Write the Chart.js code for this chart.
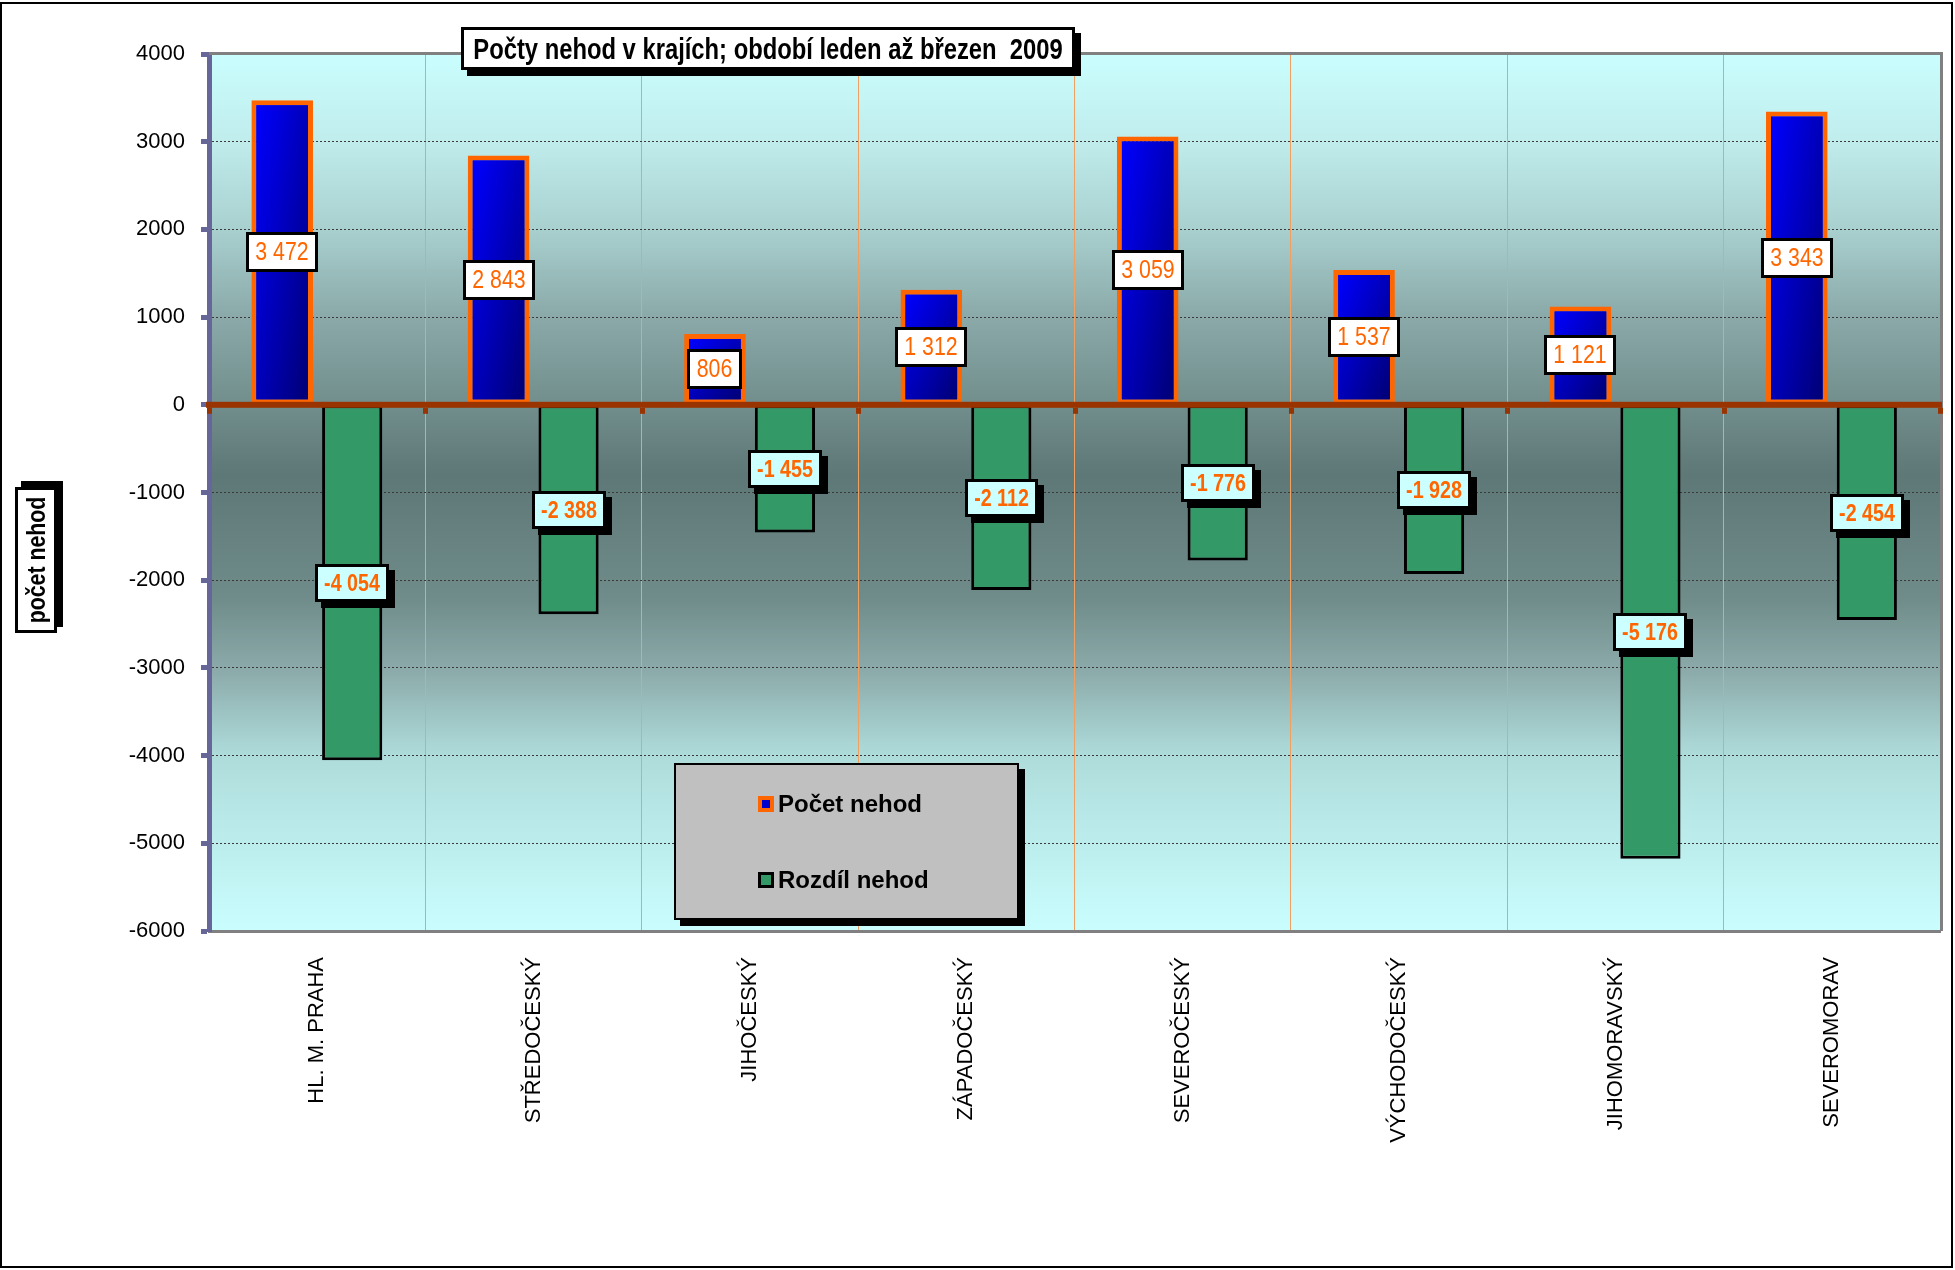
<!DOCTYPE html>
<html>
<head>
<meta charset="utf-8">
<script src="https://cdn.jsdelivr.net/npm/chart.js@4"></script>
<style>
html,body{margin:0;padding:0;background:#fff;}
#wrap{position:relative;width:1955px;height:1270px;overflow:hidden;background:#fff;}
#c{position:absolute;left:0;top:0;}
.frame{position:absolute;left:0;top:2px;width:1953px;height:1266px;box-sizing:border-box;border:2px solid #000;pointer-events:none;}
.title{position:absolute;left:461px;top:27px;width:614px;height:43px;box-sizing:border-box;border:3px solid #000;background:#fff;box-shadow:6px 6px 0 #000;}
.title span{position:absolute;left:50%;top:50%;transform:translate(-50%,-50%) scaleX(0.82);
  font:bold 29px 'Liberation Sans',Arial,sans-serif;white-space:pre;color:#000;line-height:1;}
.ytitle{position:absolute;left:15px;top:487px;width:42px;height:146px;box-sizing:border-box;border:3px solid #000;background:#fff;box-shadow:6px -6px 0 #000;}
.ytitle span{position:absolute;left:50%;top:50%;transform:translate(-50%,-50%) rotate(-90deg) scaleX(0.82);
  font:bold 26px 'Liberation Sans',Arial,sans-serif;white-space:nowrap;color:#000;line-height:1;}
.legend{position:absolute;left:674px;top:763px;width:345px;height:157px;box-sizing:border-box;border:2px solid #000;background:#C0C0C0;box-shadow:6px 6px 0 #000;}
.item{position:absolute;left:82px;height:30px;display:flex;align-items:center;font:bold 24px 'Liberation Sans',Arial,sans-serif;color:#000;white-space:nowrap;}
.mk{width:16px;height:16px;box-sizing:border-box;margin-right:4px;}
</style>
</head>
<body>
<div id="wrap">
  <canvas id="c" width="1955" height="1270"></canvas>
  <div class="title"><span id="title"></span></div>
  <div class="ytitle"><span id="ytitle"></span></div>
  <div class="legend" id="legend"></div>
  <div class="frame"></div>
</div>
<script>
// ---- data ----
const categories = ["HL. M. PRAHA","STŘEDOČESKÝ","JIHOČESKÝ","ZÁPADOČESKÝ","SEVEROČESKÝ","VÝCHODOČESKÝ","JIHOMORAVSKÝ","SEVEROMORAV"];
const pocetNehod = [3472, 2843, 806, 1312, 3059, 1537, 1121, 3343];
const rozdilNehod = [-4054, -2388, -1455, -2112, -1776, -1928, -5176, -2454];
const seriesNames = ["Počet nehod", "Rozdíl nehod"];
const chartTitle = "Počty nehod v krajích; období leden až březen  2009";
const yAxisTitle = "počet nehod";
const yMin = -6000, yMax = 4000, yStep = 1000;

const FONT = "'Liberation Sans',Arial,sans-serif";
const NARROW_SCALE = 0.82;

document.getElementById('title').textContent = chartTitle;
document.getElementById('ytitle').textContent = yAxisTitle;
const legendEl = document.getElementById('legend');
const mkStyles = [
  "background:#0000CC;border:4px solid #FF6600;",
  "background:#339966;border:3px solid #000;"
];
const itemTops = [24, 100];
seriesNames.forEach((n, i) => {
  const d = document.createElement('div');
  d.className = 'item';
  d.style.top = itemTops[i] + 'px';
  const m = document.createElement('div');
  m.className = 'mk';
  m.style.cssText = mkStyles[i];
  const t = document.createElement('span');
  t.textContent = n;
  d.appendChild(m); d.appendChild(t);
  legendEl.appendChild(d);
});

function fmt(v) {
  const s = Math.abs(v).toString().replace(/\B(?=(\d{3})+(?!\d))/g, ' ');
  return (v < 0 ? '-' : '') + s;
}

const deco = {
  id: 'deco',
  beforeDraw(chart) {
    const {ctx, chartArea: a} = chart;
    const g = ctx.createLinearGradient(0, a.top, 0, a.bottom);
    g.addColorStop(0, '#CAFEFE');
    g.addColorStop(0.1, '#C0ECEC');
    g.addColorStop(0.2, '#A8D0CF');
    g.addColorStop(0.3, '#8AA9A8');
    g.addColorStop(0.4, '#718E8C');
    g.addColorStop(0.48, '#5E7777');
    g.addColorStop(0.62, '#6F8C8A');
    g.addColorStop(0.7, '#8AA9A8');
    g.addColorStop(0.8, '#AEDCDB');
    g.addColorStop(1, '#CAFEFE');
    ctx.save();
    ctx.fillStyle = g;
    ctx.fillRect(a.left, a.top, a.right - a.left, a.bottom - a.top);
    ctx.restore();
  },
  beforeDatasetsDraw(chart) {
    const {ctx, chartArea: a} = chart;
    ctx.save();
    ctx.strokeStyle = '#808080';
    ctx.lineWidth = 3;
    ctx.beginPath();
    ctx.moveTo(a.left, a.top - 0.5);
    ctx.lineTo(a.right + 1.5, a.top - 0.5);
    ctx.lineTo(a.right + 1.5, a.bottom);
    ctx.stroke();
    ctx.restore();
  },
  afterDatasetDraw(chart, args) {
    if (args.index !== 0) return;
    const {ctx} = chart;
    const meta = chart.getDatasetMeta(0);
    const bw = 5;
    ctx.save();
    meta.data.forEach(el => {
      const p = el.getProps(['x', 'y', 'base', 'width'], true);
      const l = p.x - p.width / 2 + bw, r = p.x + p.width / 2 - bw;
      const t = Math.min(p.y, p.base) + bw, b = Math.max(p.y, p.base) - bw;
      if (r <= l || b <= t) return;
      ctx.save();
      ctx.translate(l, t);
      ctx.scale(r - l, b - t);
      const g = ctx.createLinearGradient(0, 0, 1, 1);
      g.addColorStop(0, '#0000FF');
      g.addColorStop(1, '#000075');
      ctx.fillStyle = g;
      ctx.fillRect(0, 0, 1, 1);
      ctx.restore();
    });
    ctx.restore();
  },
  afterDatasetsDraw(chart) {
    const {ctx, chartArea: a, scales} = chart;
    const y0 = scales.y.getPixelForValue(0);
    ctx.save();
    ctx.fillStyle = '#993300';
    ctx.fillRect(a.left - 3, y0 - 3, a.right - a.left + 5, 6);
    for (let i = 0; i <= categories.length; i++) {
      const x = scales.x.getPixelForValue(i - 0.5);
      ctx.fillRect(Math.round(x) - 2, y0 + 3, 5, 6);
    }
    ctx.restore();
  },
  afterDraw(chart) {
    const {ctx} = chart;
    const styles = [
      {font: "26px " + FONT, bg: '#FFFFFF', h: 40, padX: 9.5, bw: 3, shadow: false},
      {font: "bold 24px " + FONT, bg: '#CCFFFF', h: 38, padX: 9, bw: 3, shadow: true}
    ];
    chart.data.datasets.forEach((ds, di) => {
      const meta = chart.getDatasetMeta(di);
      const st = styles[di];
      meta.data.forEach((el, i) => {
        const p = el.getProps(['x', 'y', 'base'], true);
        const cx = p.x, cy = (p.y + p.base) / 2;
        const text = fmt(ds.data[i]);
        ctx.save();
        ctx.font = st.font;
        const tw = ctx.measureText(text).width * NARROW_SCALE;
        const w = Math.round(tw + 2 * st.padX), h = st.h;
        const l = Math.round(cx - w / 2), t = Math.round(cy - h / 2);
        if (st.shadow) { ctx.fillStyle = '#000'; ctx.fillRect(l + 6, t + 6, w, h); }
        ctx.fillStyle = st.bg;
        ctx.fillRect(l, t, w, h);
        ctx.lineWidth = st.bw;
        ctx.strokeStyle = '#000';
        ctx.strokeRect(l + st.bw / 2, t + st.bw / 2, w - st.bw, h - st.bw);
        ctx.fillStyle = '#FF6600';
        ctx.textAlign = 'center';
        ctx.textBaseline = 'middle';
        ctx.translate(l + w / 2, t + h / 2 + 1);
        ctx.scale(NARROW_SCALE, 1);
        ctx.fillText(text, 0, 0);
        ctx.restore();
      });
    });
  }
};

new Chart(document.getElementById('c'), {
  type: 'bar',
  data: {
    labels: categories,
    datasets: [
      {label: seriesNames[0], data: pocetNehod, backgroundColor: '#0000CC', borderColor: '#FF6600', borderWidth: 5, borderSkipped: false,
       categoryPercentage: 0.647, barPercentage: 0.88},
      {label: seriesNames[1], data: rozdilNehod, backgroundColor: '#339966', borderColor: '#000000', borderWidth: 3, borderSkipped: false,
       categoryPercentage: 0.647, barPercentage: 0.86}
    ]
  },
  options: {
    responsive: false,
    animation: false,
    devicePixelRatio: 1,
    layout: {padding: {left: 0, top: 54, right: 15, bottom: 89}},
    plugins: {legend: {display: false}, title: {display: false}, tooltip: {enabled: false}},
    scales: {
      x: {
        afterFit(s) { s.height = 250; },
        grid: {offset: true, color: '#F0A060', lineWidth: 1, drawTicks: false},
        border: {display: true, color: '#808080', width: 3},
        ticks: {minRotation: 90, maxRotation: 90, padding: 26, color: '#000', font: {family: FONT, size: 22}, autoSkip: false}
      },
      y: {
        min: yMin, max: yMax,
        afterFit(s) { s.width = 209; },
        grid: {color: '#3A3A3A', lineWidth: 1, tickColor: '#666699', tickWidth: 5, tickLength: 8},
        border: {display: true, color: '#666699', width: 5, dash: [2, 2]},
        ticks: {stepSize: yStep, padding: 16, color: '#000', font: {family: FONT, size: 22},
                callback: v => String(v)}
      }
    }
  },
  plugins: [deco]
});
</script>
</body>
</html>
